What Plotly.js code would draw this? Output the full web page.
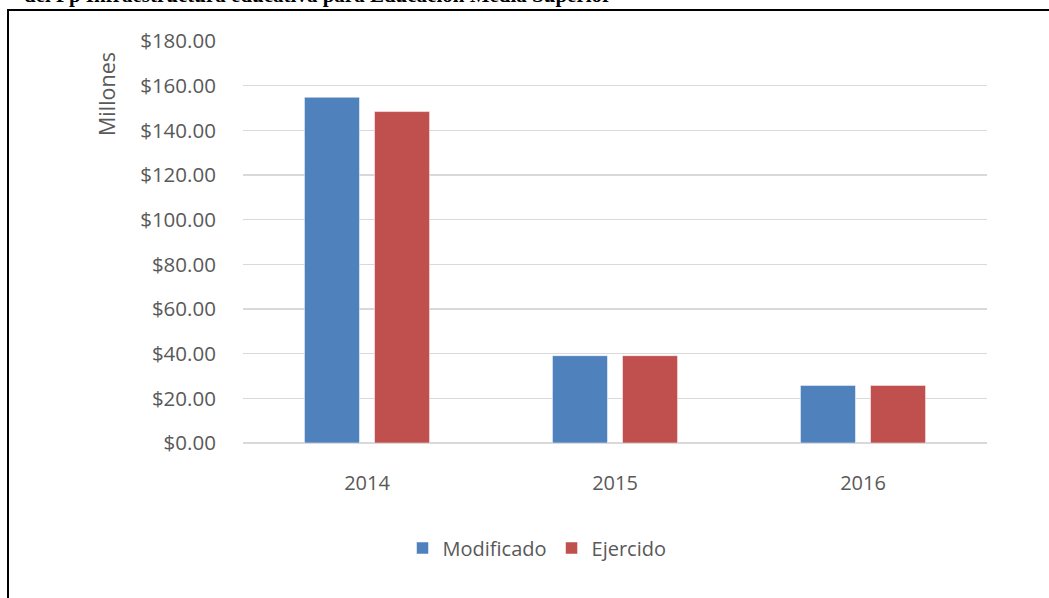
<!DOCTYPE html>
<html>
<head>
<meta charset="utf-8">
<script src="https://cdn.plot.ly/plotly-3.0.1.min.js"></script>
<style>
  html, body { margin: 0; padding: 0; background: #ffffff; }
  #wrap { position: relative; width: 1049px; height: 598px; overflow: hidden; }
  #chart { position: absolute; left: 0; top: 0; width: 1049px; height: 598px; }
  #frame { position: absolute; left: 7px; top: 9px; width: 1050px; height: 600px;
           border-top: 2.5px solid #000; border-left: 2.5px solid #000; pointer-events: none; }
</style>
</head>
<body>
<div id="wrap">
  <div id="chart"></div>
  <div id="frame"></div>
</div>
<script>
const years = ['2014', '2015', '2016'];
const modificado = [154.8, 39.1, 25.8];
const ejercido = [148.4, 39.1, 25.8];
const seriesNames = ['Modificado', 'Ejercido'];
const yTickValues = [0, 20, 40, 60, 80, 100, 120, 140, 160, 180];
const yTickLabels = ['$0.00', '$20.00', '$40.00', '$60.00', '$80.00', '$100.00', '$120.00', '$140.00', '$160.00', '$180.00'];
const titleText = 'del Pp Infraestructura educativa para Educación Media Superior';
const yAxisLabel = 'Millones';

const FONT = 'Open Sans, Calibri, sans-serif';
const GREY = '#595959';

const traces = [
  { type: 'bar', name: seriesNames[0], x: years, y: modificado,
    marker: { color: '#4F81BD', line: { color: '#ffffff', width: 0.5 } }, hoverinfo: 'none' },
  { type: 'bar', name: seriesNames[1], x: years, y: ejercido,
    marker: { color: '#C0504D', line: { color: '#ffffff', width: 0.5 } }, hoverinfo: 'none' }
];

const layout = {
  width: 1049, height: 598,
  margin: { l: 243, r: 62, t: 41, b: 155 },
  paper_bgcolor: '#ffffff', plot_bgcolor: '#ffffff',
  font: { family: FONT, size: 20, color: GREY },
  barmode: 'group', bargap: 0.435, bargroupgap: 0.214,
  showlegend: true,
  legend: { orientation: 'h', x: 537 / 1049, xref: 'container', xanchor: 'center',
            y: 50 / 598, yref: 'container', yanchor: 'middle',
            font: { family: FONT, size: 20, color: GREY }, itemwidth: 30, traceorder: 'normal' },
  xaxis: { type: 'category', showgrid: false, zeroline: false, showline: false,
           ticks: 'outside', ticklen: 22, tickcolor: 'rgba(0,0,0,0)',
           tickfont: { family: FONT, size: 20, color: GREY } },
  yaxis: { range: [0, 180], tickmode: 'array', tickvals: yTickValues, ticktext: yTickLabels,
           showgrid: true, gridcolor: '#d9d9d9', gridwidth: 1.5,
           zeroline: true, zerolinecolor: '#d9d9d9', zerolinewidth: 1.5, showline: false,
           ticks: 'outside', ticklen: 22, tickcolor: 'rgba(0,0,0,0)',
           tickfont: { family: FONT, size: 20.5, color: GREY } },
  annotations: [
    { text: yAxisLabel, textangle: -90, showarrow: false,
      xref: 'paper', yref: 'paper', x: (106 - 243) / 744, y: (443 - 94) / 402,
      xanchor: 'center', yanchor: 'middle',
      font: { family: FONT, size: 21.5, color: GREY } },
    { text: '<b>' + titleText + '</b>', showarrow: false,
      xref: 'paper', yref: 'paper', x: (22 - 243) / 744, y: (443 + 5) / 402,
      xanchor: 'left', yanchor: 'middle',
      font: { family: 'Liberation Serif, Times New Roman, serif', size: 21, color: '#000000' } }
  ]
};

Plotly.newPlot('chart', traces, layout, { staticPlot: true, displayModeBar: false });
</script>
</body>
</html>
